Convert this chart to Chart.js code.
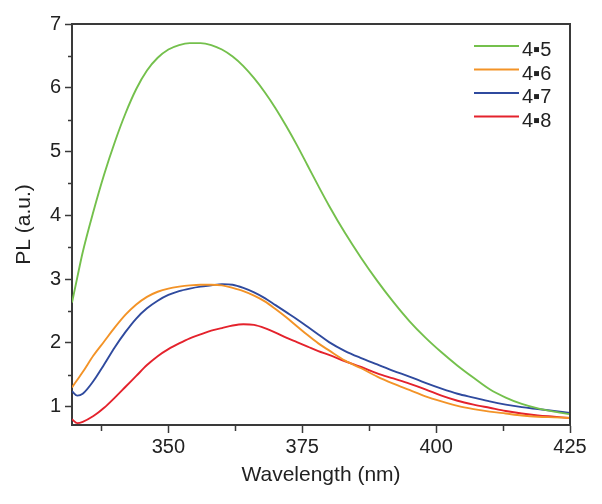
<!DOCTYPE html>
<html>
<head>
<meta charset="utf-8">
<script src="https://cdn.jsdelivr.net/npm/chart.js@4/dist/chart.umd.min.js"></script>
<style>
  html, body { margin: 0; padding: 0; background: #fff; }
  #wrap { width: 602px; height: 504px; }
</style>
</head>
<body>
<div id="wrap"><canvas id="chart" width="602" height="504"></canvas></div>
<script>
/* PL spectra – 4•5 / 4•6 / 4•7 / 4•8 */

const WAVELENGTH = [332, 333, 334, 336, 338, 340, 342, 344, 346, 348, 350, 352, 354, 356, 358,
  360, 362, 364, 366, 368, 370, 372, 374, 376, 378, 380, 383, 386, 389, 392, 395, 398,
  401, 404, 407, 410, 413, 416, 419, 422, 425];

const PL_45 = [2.63, 3.03, 3.42, 4.06, 4.64, 5.15, 5.6, 5.98, 6.27, 6.47, 6.6, 6.67, 6.70, 6.70, 6.67,
  6.60, 6.49, 6.34, 6.15, 5.93, 5.68, 5.40, 5.10, 4.78, 4.46, 4.15, 3.72, 3.33, 2.97, 2.64, 2.34, 2.08,
  1.85, 1.64, 1.45, 1.27, 1.14, 1.04, 0.97, 0.92, 0.88];

const PL_46 = [1.30, 1.42, 1.54, 1.80, 2.02, 2.24, 2.44, 2.60, 2.72, 2.80, 2.85, 2.88, 2.90, 2.91, 2.91,
  2.90, 2.86, 2.81, 2.74, 2.65, 2.53, 2.40, 2.26, 2.12, 1.99, 1.88, 1.72, 1.60, 1.47, 1.36, 1.26, 1.16,
  1.08, 1.01, 0.96, 0.92, 0.89, 0.86, 0.84, 0.83, 0.82];

const PL_47 = [1.24, 1.17, 1.20, 1.40, 1.66, 1.93, 2.17, 2.38, 2.54, 2.66, 2.75, 2.81, 2.85, 2.88, 2.90,
  2.92, 2.91, 2.86, 2.79, 2.70, 2.59, 2.48, 2.37, 2.25, 2.13, 2.01, 1.87, 1.76, 1.66, 1.56, 1.47, 1.37,
  1.28, 1.20, 1.14, 1.08, 1.03, 0.99, 0.96, 0.93, 0.90];

const PL_48 = [0.80, 0.74, 0.76, 0.85, 0.98, 1.14, 1.31, 1.48, 1.65, 1.79, 1.90, 1.99, 2.07, 2.13, 2.19,
  2.23, 2.27, 2.29, 2.28, 2.23, 2.16, 2.08, 2.01, 1.94, 1.87, 1.81, 1.71, 1.62, 1.52, 1.44, 1.36, 1.27,
  1.17, 1.09, 1.03, 0.98, 0.93, 0.89, 0.86, 0.84, 0.82];

const SERIES_LABELS = ["4\u25AA5", "4\u25AA6", "4\u25AA7", "4\u25AA8"];
const SERIES_COLORS = ["#74c04c", "#f39327", "#2f4a9e", "#e4222c"];

const X_TICKS = [350, 375, 400, 425];
const X_MINOR = [337.5, 362.5, 387.5, 412.5];
const Y_TICKS = [1, 2, 3, 4, 5, 6, 7];
const Y_MINOR = [1.5, 2.5, 3.5, 4.5, 5.5, 6.5];

const AXIS_COLOR = "#3a3a3a";
const FONT = "'Liberation Sans', Arial, sans-serif";

const toPoints = (vals) => WAVELENGTH.map((w, i) => ({ x: w, y: vals[i] }));

/* ── frame (top/right) + minor ticks + legend ─────────── */
const decorations = {
  id: "decorations",
  afterDraw(chart) {
    const { ctx, chartArea: a, scales: { x, y } } = chart;
    ctx.save();
    ctx.strokeStyle = AXIS_COLOR;
    ctx.lineWidth = 2;
    ctx.beginPath();
    ctx.moveTo(a.left, a.top);
    ctx.lineTo(a.right, a.top);
    ctx.lineTo(a.right, a.bottom);
    ctx.stroke();

    ctx.lineWidth = 1.5;
    ctx.beginPath();
    X_MINOR.forEach((v) => {
      const px = Math.round(x.getPixelForValue(v)) + 0.5;
      ctx.moveTo(px, a.bottom);
      ctx.lineTo(px, a.bottom + 6);
    });
    Y_MINOR.forEach((v) => {
      const py = Math.round(y.getPixelForValue(v)) + 0.5;
      ctx.moveTo(a.left, py);
      ctx.lineTo(a.left - 4, py);
    });
    ctx.stroke();

    // legend
    ctx.font = "20px " + FONT;
    ctx.textBaseline = "alphabetic";
    ctx.fillStyle = "#222";
    chart.data.datasets.forEach((ds, i) => {
      const rowY = 46 + i * 23.5;
      ctx.strokeStyle = ds.borderColor;
      ctx.lineWidth = 2;
      ctx.beginPath();
      ctx.moveTo(474, rowY);
      ctx.lineTo(519, rowY);
      ctx.stroke();
      ctx.fillText(ds.label, 522, rowY + 10);
    });
    ctx.restore();
  },
};

new Chart(document.getElementById("chart"), {
  type: "line",
  data: {
    datasets: [PL_45, PL_46, PL_47, PL_48].map((vals, i) => ({
      label: SERIES_LABELS[i],
      data: toPoints(vals),
      borderColor: SERIES_COLORS[i],
      backgroundColor: SERIES_COLORS[i],
      borderWidth: 1.9,
      pointRadius: 0,
      cubicInterpolationMode: "monotone",
    })),
  },
  options: {
    responsive: false,
    animation: false,
    layout: { padding: { top: 24, right: 32, left: 0, bottom: 0 } },
    plugins: {
      legend: { display: false },
      tooltip: { enabled: false },
    },
    scales: {
      x: {
        type: "linear",
        min: 332,
        max: 425,
        afterBuildTicks: (s) => { s.ticks = X_TICKS.map((v) => ({ value: v })); },
        afterFit: (s) => { s.height = 79; },
        border: { color: AXIS_COLOR, width: 2 },
        grid: { drawOnChartArea: false, tickLength: 8, tickColor: AXIS_COLOR, tickWidth: 1.5 },
        ticks: { color: "#222", font: { family: FONT, size: 20 }, padding: 2, maxRotation: 0 },
        title: {
          display: true,
          text: "Wavelength (nm)",
          color: "#222",
          font: { family: FONT, size: 21 },
          padding: { top: 0, bottom: 16 },
        },
      },
      y: {
        type: "linear",
        min: 0.71,
        max: 7,
        afterBuildTicks: (s) => { s.ticks = Y_TICKS.map((v) => ({ value: v })); },
        afterFit: (s) => { s.width = 72; },
        border: { color: AXIS_COLOR, width: 2 },
        grid: { drawOnChartArea: false, tickLength: 7, tickColor: AXIS_COLOR, tickWidth: 1.5 },
        ticks: { color: "#222", font: { family: FONT, size: 20 }, padding: 4 },
        title: {
          display: true,
          text: "PL (a.u.)",
          color: "#222",
          font: { family: FONT, size: 21 },
          padding: { top: 12, bottom: 0 },
        },
      },
    },
  },
  plugins: [decorations],
});
</script>
</body>
</html>
